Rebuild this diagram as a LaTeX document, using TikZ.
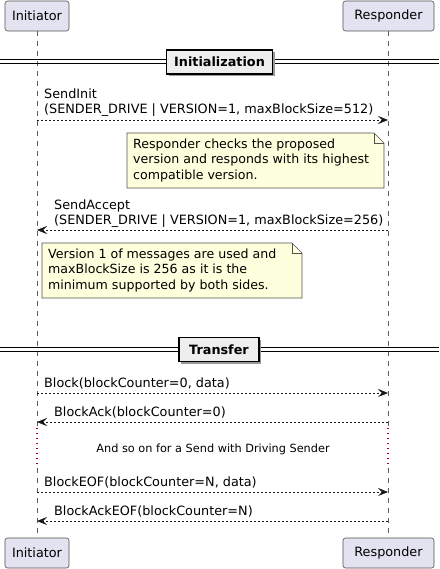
\documentclass[tikz,border=0pt]{standalone}
\usepackage{fontspec}
\setmainfont{DejaVu Sans}
\usetikzlibrary{arrows.meta,shadows}
\definecolor{ink}{HTML}{181818}
\definecolor{partfill}{HTML}{E2E2F0}
\definecolor{notefill}{HTML}{FEFFDD}
\definecolor{divfill}{HTML}{EEEEEE}
\definecolor{delayc}{HTML}{A80036}
\tikzset{
  part/.style={draw=ink!75, line width=0.6pt, fill=partfill, rounded corners=2.5pt,
    minimum height=30pt, inner sep=0pt, font=\fontsize{12.8}{15}\selectfont},
  lifeline/.style={draw=ink!70, line width=0.5pt, dash pattern=on 5pt off 5pt},
  delayline/.style={draw=delayc, line width=1.2pt, dash pattern=on 1pt off 4pt},
  msg/.style={draw=ink, line width=0.6pt, dash pattern=on 2pt off 2pt,
    -{Stealth[length=10pt,width=8pt,inset=4pt]}, shorten >=0pt},
  lbl/.style={inner sep=0pt, align=left, font=\fontsize{12.8}{15}\selectfont, text=black},
  notebg/.style={fill=notefill, draw=ink!75, line width=0.6pt},
  notetxt/.style={inner sep=0pt, align=left, font=\fontsize{12.6}{15.3}\selectfont,
    anchor=west, text=black},
  sepline/.style={draw=black, line width=1pt},
  divbox/.style={draw=black, line width=1.5pt, fill=divfill, inner sep=0pt,
    minimum height=24pt, font=\bfseries\fontsize{12.8}{15}\selectfont,
    drop shadow={shadow xshift=2pt, shadow yshift=-2pt, fill=black!40, opacity=1}},
  delaytxt/.style={inner sep=0pt, font=\fontsize{11.3}{13}\selectfont, text=black},
}
\begin{document}
\begin{tikzpicture}[x=1pt,y=-1pt]
\useasboundingbox (0,0) rectangle (439,569);
\fill[white] (0,0) rectangle (439,569);

% participants
\node[part, minimum width=64pt] (iTop) at (37,16) {Initiator};
\node[part, minimum width=91pt] (rTop) at (388.5,16) {Responder};
\node[part, minimum width=64pt] (iBot) at (37,553) {Initiator};
\node[part, minimum width=91pt] (rBot) at (388.5,553) {Responder};

% lifelines
\coordinate (iD1) at (37,428); \coordinate (iD2) at (37,468);
\coordinate (rD1) at (388,428); \coordinate (rD2) at (388,468);
\draw[lifeline] (iTop.south) -- (iD1);
\draw[lifeline] (iD2) -- (iBot.north);
\draw[lifeline] ([xshift=-0.5pt]rTop.south) -- (rD1);
\draw[lifeline] (rD2) -- ([xshift=-0.5pt]rBot.north);
\draw[delayline] (iD1) -- (iD2);
\draw[delayline] (rD1) -- (rD2);

% divider: Initialization
\coordinate (s1a) at (0,59.5); \coordinate (s1b) at (439,59.5);
\coordinate (s1c) at (0,63.5); \coordinate (s1d) at (439,63.5);
\draw[sepline] (s1a) -- (s1b);
\draw[sepline] (s1c) -- (s1d);
\node[divbox, minimum width=106pt] (div1) at (219.5,62) {Initialization};

% SendInit
\coordinate (a1) at (37,120); \coordinate (b1) at (388,120);
\draw[msg] (a1) -- (b1);
\node[lbl, anchor=base west] (m1) at (44,114) {SendInit\\(SENDER\_DRIVE | VERSION=1, maxBlockSize=512)};

% SendAccept
\coordinate (a2) at (388,230); \coordinate (b2) at (37,230);
\draw[msg] (a2) -- (b2);
\node[lbl, anchor=base west] (m2) at (54,224) {SendAccept\\(SENDER\_DRIVE | VERSION=1, maxBlockSize=256)};

% divider: Transfer
\coordinate (s2a) at (0,347.5); \coordinate (s2b) at (439,347.5);
\coordinate (s2c) at (0,351.5); \coordinate (s2d) at (439,351.5);
\draw[sepline] (s2a) -- (s2b);
\draw[sepline] (s2c) -- (s2d);
\node[divbox, minimum width=80pt] (div2) at (219,349.5) {Transfer};

% Block
\coordinate (a3) at (37,393); \coordinate (b3) at (388,393);
\draw[msg] (a3) -- (b3);
\node[lbl, anchor=base west] (m3) at (44,387) {Block(blockCounter=0, data)};

% BlockAck
\coordinate (a4) at (388,422); \coordinate (b4) at (37,422);
\draw[msg] (a4) -- (b4);
\node[lbl, anchor=base west] (m4) at (54,416) {BlockAck(blockCounter=0)};

% delay
\node[delaytxt] (dl) at (213,449) {And so on for a Send with Driving Sender};

% BlockEOF
\coordinate (a5) at (37,492); \coordinate (b5) at (388,492);
\draw[msg] (a5) -- (b5);
\node[lbl, anchor=base west] (m5) at (44,486) {BlockEOF(blockCounter=N, data)};

% BlockAckEOF
\coordinate (a6) at (388,521); \coordinate (b6) at (37,521);
\draw[msg] (a6) -- (b6);
\node[lbl, anchor=base west] (m6) at (54,515) {BlockAckEOF(blockCounter=N)};

% note 1
\filldraw[notebg] (127,133) -- (374,133) -- (384,143) -- (384,188) -- (127,188) -- cycle;
\draw[ink!75, line width=0.6pt] (374,133) -- (374,143) -- (384,143);
\node[notetxt] (n1t) at (133,160.5) {Responder checks the proposed\\version and responds with its highest\\compatible version.};

% note 2
\filldraw[notebg] (42,243) -- (292,243) -- (302,253) -- (302,298) -- (42,298) -- cycle;
\draw[ink!75, line width=0.6pt] (292,243) -- (292,253) -- (302,253);
\node[notetxt] (n2t) at (48,270.5) {Version 1 of messages are used and\\maxBlockSize is 256 as it is the\\minimum supported by both sides.};
\end{tikzpicture}
\end{document}
